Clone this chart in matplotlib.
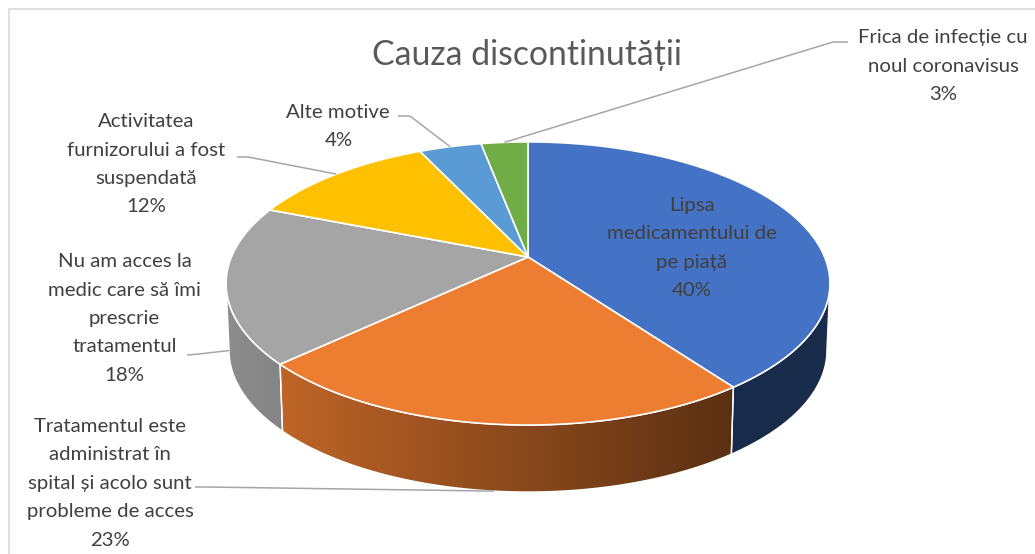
import numpy as np
import matplotlib
matplotlib.use("Agg")
import matplotlib.pyplot as plt
from matplotlib.patches import Polygon
from matplotlib import font_manager as fm
from matplotlib.colors import to_rgb

# ---------------- data ----------------
title = "Cauza discontinutății"
categories = [
    "Lipsa\nmedicamentului de\npe piață",
    "Tratamentul este\nadministrat în\nspital și acolo sunt\nprobleme de acces",
    "Nu am acces la\nmedic care să îmi\nprescrie\ntratamentul",
    "Activitatea\nfurnizorului a fost\nsuspendată",
    "Alte motive",
    "Frica de infecție cu\nnoul coronavisus",
]
values = [40, 23, 18, 12, 4, 3]
colors = ["#4472C4", "#ED7D31", "#A5A5A5", "#FFC000", "#5B9BD5", "#70AD47"]

# ---------------- font ----------------
def pick_family():
    for name in ["Liberation Sans Narrow", "Lato", "Open Sans"]:
        try:
            fm.findfont(fm.FontProperties(family=name), fallback_to_default=False)
            return name
        except Exception:
            pass
    return "DejaVu Sans"

FAM = [pick_family(), "DejaVu Sans"]

W, H = 1035, 554
fig = plt.figure(figsize=(W / 100, H / 100), dpi=100)
ax = fig.add_axes([0, 0, 1, 1])
ax.set_xlim(0, W)
ax.set_ylim(H, 0)
ax.axis("off")
renderer = fig.canvas.get_renderer()


def fit_size(s, target_px):
    t = ax.text(0, 0, s, fontsize=10, family=FAM)
    w = t.get_window_extent(renderer).width
    t.remove()
    return 10 * target_px / w

label_fs = fit_size("spital și acolo sunt", 164)
title_fs = fit_size(title, 310)

# ---------------- projection of the 3D pie ----------------
CX, CY = 528.0, 257.0
A, B, K = 296.6, 136.6, 0.187
DEPTH = 67.0
TH_R = np.degrees(np.arccos(-K))          # right silhouette (clockwise from top)
TH_L = 360 - TH_R                          # left silhouette


def proj(theta_deg, bottom=False):
    t = np.radians(theta_deg)
    u, v = np.sin(t), np.cos(t)
    w = 1 + K * v
    x = CX + A * u / w
    y = CY - B * v / w
    if bottom:
        x = CX + (x - CX) * 0.99
        y = y + DEPTH
    return x, y


def shade(x):
    return np.clip(0.85 - (x - 230) * (0.85 - 0.39) / (725 - 230), 0.38, 0.9)

total = float(sum(values))
bounds = np.concatenate([[0], np.cumsum(values) / total * 360.0])

# side walls
gx = np.linspace(215, 845, 400)
for i, c in enumerate(colors):
    a, b = bounds[i], bounds[i + 1]
    a2, b2 = max(a, TH_R), min(b, TH_L)
    if b2 <= a2:
        continue
    th = np.linspace(a2, b2, 120)
    xt, yt = proj(th)
    xb, yb = proj(th[::-1], bottom=True)
    pts = np.column_stack([np.concatenate([xt, xb]), np.concatenate([yt, yb])])
    patch = Polygon(pts, closed=True, facecolor="none", edgecolor="white",
                    lw=1.0, zorder=2.2)
    ax.add_patch(patch)
    base = np.array(to_rgb(c))
    img = np.clip(base[None, None, :] * shade(gx)[None, :, None], 0, 1)
    im = ax.imshow(img, extent=[215, 845, 510, 130], aspect="auto",
                   interpolation="bilinear", zorder=2)
    im.set_clip_path(patch)

# top faces
for i, c in enumerate(colors):
    th = np.linspace(bounds[i], bounds[i + 1], 200)
    xt, yt = proj(th)
    pts = np.column_stack([np.concatenate([[CX], xt]), np.concatenate([[CY], yt])])
    ax.add_patch(Polygon(pts, closed=True, facecolor=c, edgecolor="white",
                         lw=1.2, zorder=3, joinstyle="round"))

ax.set_xlim(0, W)
ax.set_ylim(H, 0)

# ---------------- labels ----------------
label_cx = [692, 110, 124.5, 146.5, 338.3, 943]
label_base = [211, 432, 267.3, 127.3, 117.7, 43.3]
line_step = 28.4
label_color = "#404040"

for i, cat in enumerate(categories):
    pct = f"{round(values[i] / total * 100)}%"
    lines = cat.split("\n") + [pct]
    for j, ln in enumerate(lines):
        ax.text(label_cx[i], label_base[i] + j * line_step, ln, ha="center",
                va="baseline", fontsize=label_fs, family=FAM, color=label_color,
                zorder=6)

# leader lines: text-side anchor points, pie-side end computed from slice
leader_text_pts = {
    1: [(195, 487), (207, 487)],
    2: [(187, 355), (199, 354)],
    3: [(237, 157), (248, 157)],
    4: [(398, 116), (410, 116)],
    5: [(848, 42), (833, 42)],
}
for i, tp in leader_text_pts.items():
    mid = (bounds[i] + bounds[i + 1]) / 2
    front = TH_R < mid < TH_L
    ex, ey = proj(mid, bottom=front)
    xs = [p[0] for p in tp] + [ex]
    ys = [p[1] for p in tp] + [ey]
    ax.plot(xs, ys, color="#A6A6A6", lw=1.1, zorder=5, solid_capstyle="butt")

# title
ax.text(527, 65, title, ha="center", va="baseline", fontsize=title_fs,
        family=FAM, color="#595959", zorder=6)

# chart-area border
ax.plot([8.5, 8.5, W], [H, 9, 9], color="#D9D9D9", lw=1.2, zorder=1)

fig.savefig("out.png", dpi=100)
